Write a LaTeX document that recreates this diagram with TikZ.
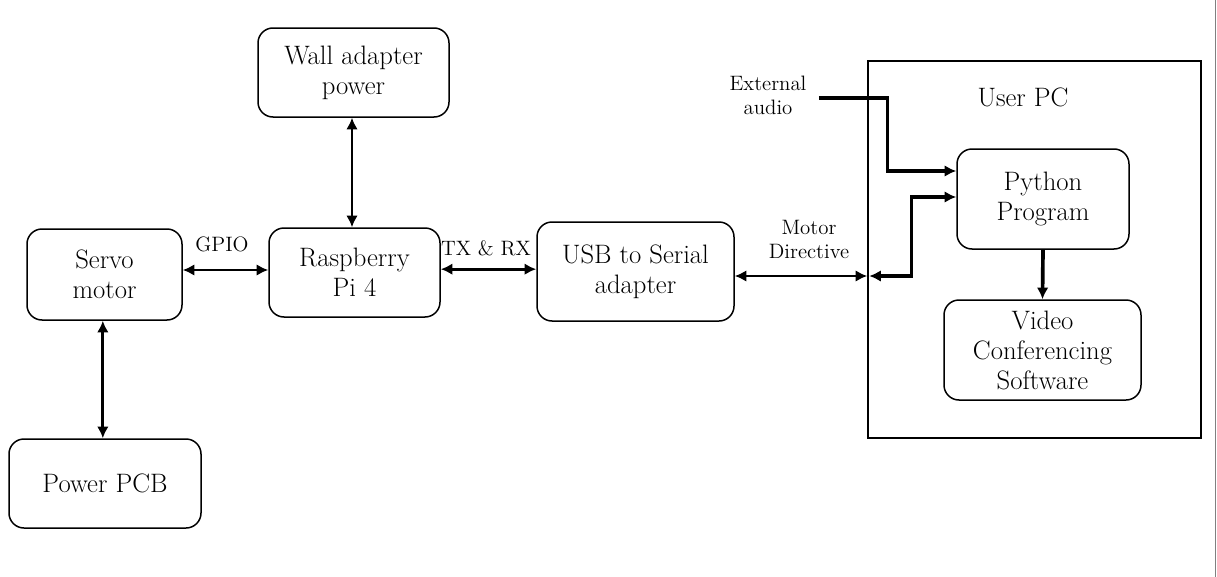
\documentclass[tikz,border=0pt]{standalone}
\usepackage{tikz}
\usetikzlibrary{arrows.meta}

\begin{document}
\begin{tikzpicture}[x=0.6pt,y=-0.6pt,
    block/.style={draw,rounded corners=9pt,line width=0.9pt,align=center,font=\fontsize{16}{18}\selectfont,inner sep=0pt},
    link/.style={line width=1.7pt,{Latex[length=7pt,width=7pt]}-{Latex[length=7pt,width=7pt]}},
    flow/.style={line width=2pt,-{Latex[length=7pt,width=7pt]}},
    tag/.style={font=\fontsize{12.5}{14.4}\selectfont,align=center}]
    \useasboundingbox (0,0) rectangle (1217,577);
    \draw [gray,line width=0.6pt] (1215,0) -- (1215,577);

    % boxes on the board side
    \node [block,minimum width=114.6pt,minimum height=53.4pt] (wall) at (353.5,72.5) {Wall adapter\\power};
    \node [block,minimum width=102.6pt,minimum height=53.4pt] (rpi) at (354.5,272.5) {Raspberry\\Pi 4};
    \node [block,minimum width=93pt,minimum height=54.6pt] (servo) at (104.5,274.5) {Servo\\motor};
    \node [block,minimum width=115.2pt,minimum height=53.4pt] (pcb) at (105,483.5) {Power PCB};
    \node [block,minimum width=118.2pt,minimum height=59.4pt] (usb) at (635.5,271.5) {USB to Serial\\adapter};

    % user PC
    \node [draw,line width=0.9pt,minimum width=199.8pt,minimum height=226.2pt] (pc) at (1034.5,249.5) {};
    \node [font=\fontsize{16}{18}\selectfont] (pcname) at (1023,97) {User PC};
    \node [block,minimum width=103.2pt,minimum height=60pt] (python) at (1043,199) {Python\\Program};
    \node [block,minimum width=118.2pt,minimum height=60pt] (video) at (1042.5,350) {Video\\Conferencing\\Software};
    \node [tag] (audio) at (768,95) {External\\audio};

    % labels
    \node [tag] (gpio) at (222,244) {GPIO};
    \node [tag] (txrx) at (486,248) {TX \& RX};
    \node [tag] (motor) at (809,239) {Motor\\Directive};

    % connectors
    \draw [link] ([xshift=-0.9pt]wall.south) -- ([xshift=-0.9pt]wall.south |- rpi.north);
    \draw [link] ([yshift=1.5pt]rpi.west) -- ([yshift=1.5pt]rpi.west -| servo.east);
    \draw [link] ([yshift=2pt]rpi.east) -- ([yshift=2pt]rpi.east -| usb.west);
    \draw [link] ([xshift=-1pt]servo.south) -- ([xshift=-1pt]servo.south |- pcb.north);
    \coordinate (md) at ([yshift=-2.7pt]usb.east -| pc.west);
    \draw [link] ([yshift=-2.7pt]usb.east) -- (md);
    \draw [link,line width=2pt] ([xshift=1.2pt]md) -- ++(42,0) |- ([yshift=1.2pt]python.west);
    \draw [flow] ([xshift=4pt,yshift=-1.8pt]audio.east) -| ([xshift=-41.4pt,yshift=16.8pt]python.west) -- ([yshift=16.8pt]python.west);
    \draw [flow,line width=2.2pt] (python.south) -- (video.north);
\end{tikzpicture}
\end{document}
